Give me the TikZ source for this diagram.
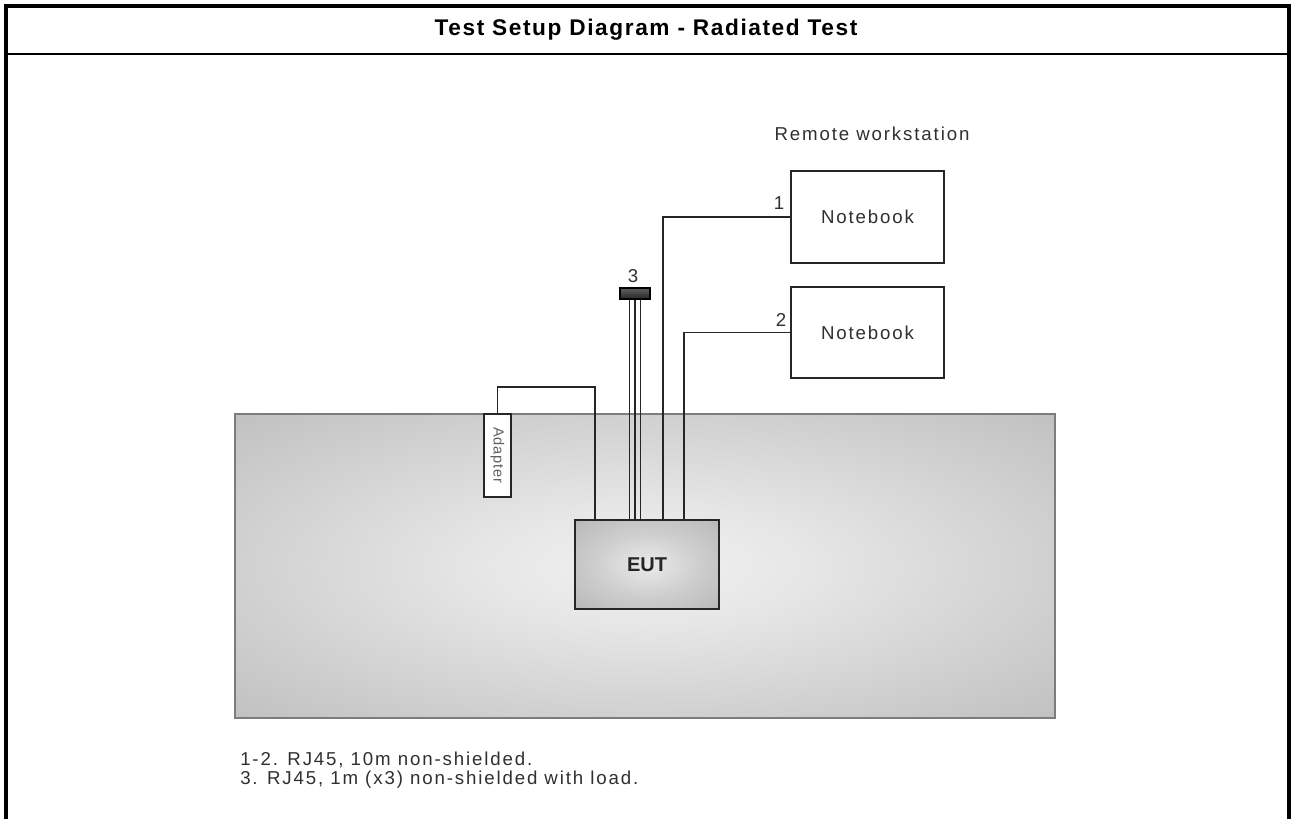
\documentclass[tikz,border=0pt]{standalone}
\usepackage{fontspec}
\setmainfont{Liberation Sans}
\newfontfamily\lblfont[LetterSpace=10]{Liberation Sans}
\newfontfamily\titlefont[LetterSpace=7]{Liberation Sans}
\newfontfamily\smallfont[LetterSpace=6]{Liberation Sans}
\usetikzlibrary{calc}

% colours of the bench top and the EUT enclosure
\definecolor{tbA}{HTML}{F1F1F1}
\definecolor{tbB}{HTML}{E6E6E6}
\definecolor{tbC}{HTML}{ABABAB}
\definecolor{tbD}{HTML}{939393}
\definecolor{euA}{HTML}{EAEAEA}
\definecolor{euB}{HTML}{CECECE}
\definecolor{euC}{HTML}{A6A6A6}
\definecolor{ink}{HTML}{262626}
\definecolor{txt}{HTML}{303030}
\definecolor{benchedge}{HTML}{7C7C7C}

\pgfdeclareradialshading{benchsh}{\pgfpoint{0bp}{0bp}}{%
  color(0bp)=(tbA); color(10bp)=(tbB); color(50bp)=(tbC); color(71bp)=(tbD)}
\pgfdeclareradialshading{eutsh}{\pgfpoint{0bp}{0bp}}{%
  color(0bp)=(euA); color(18bp)=(euB); color(50bp)=(euC); color(71bp)=(euC)}

\tikzset{
  cable/.style={draw=ink, line width=1.4pt},
  pcbox/.style={draw=ink, line width=1.3pt, fill=white, inner sep=0pt,
    minimum width=114.75pt, minimum height=68.5pt,
    font=\lblfont\fontsize{14}{16}\selectfont, text=txt},
  lbl/.style={inner sep=0pt, font=\lblfont\fontsize{14}{16}\selectfont, text=txt},
}

\begin{document}
\begin{tikzpicture}[x=0.75pt, y=-0.75pt]
\useasboundingbox (0,0) rectangle (1292,819);
\fill[white] (0,0) rectangle (1292,819);

% outer frame and title bar
\draw[black, line width=3pt] (6,819) -- (6,5.5) -- (1289,5.5) -- (1289,819);
\draw[black, line width=2.2pt] (6,54) -- (1289,54);
\node[inner sep=0pt, font=\titlefont\bfseries\fontsize{17}{20}\selectfont] (title) at (646,30)
  {Test Setup Diagram - Radiated Test};

% bench top
\node[draw=benchedge, line width=1pt, shade, shading=benchsh, inner sep=0pt,
  minimum width=615pt, minimum height=228pt] (bench) at (645,566) {};

% equipment
\node[draw=ink, line width=1.8pt, shade, shading=eutsh, inner sep=0pt,
  minimum width=108pt, minimum height=66.75pt,
  font=\bfseries\fontsize{15}{17}\selectfont, text=ink] (eut) at (647,564.5) {EUT};

\node[draw=ink, line width=1.2pt, fill=white, inner sep=0pt,
  minimum width=20.5pt, minimum height=62.25pt] (adapter) at (497.5,455.5) {};
\node[rotate=-90, inner sep=0pt, text=gray!75!black,
  font=\smallfont\fontsize{11}{13}\selectfont] (adaptertxt) at (adapter.center) {Adapter};

\node[pcbox] (nb1) at (867.5,217) {Notebook};
\node[pcbox] (nb2) at (867.5,332.5) {Notebook};
\node[lbl] (remote) at (872,134) {Remote workstation};

\node[draw=black, line width=1pt, top color=gray!75!black, bottom color=black!85,
  inner sep=0pt, minimum width=22.5pt, minimum height=8.25pt] (conn) at (635,293.5) {};

% adapter cable
\coordinate (abend) at (595,387);
\draw[cable] (adapter.north) |- (abend) -- (abend |- eut.north);

% load cables (3)
\foreach \dx in {-5.5,0,5.5} {
  \draw[cable, line width=1.3pt] ($(conn.south)+(\dx,0)$) -- ($(conn.south |- eut.north)+(\dx,0)$);
}
\node[lbl] (l3) at (633,276) {3};

% LAN cables (1, 2)
\draw[cable] (663,0 |- eut.north) |- (nb1.west);
\draw[cable] (684,0 |- eut.north) |- (nb2.west);
\node[lbl] (l1) at (779,203) {1};
\node[lbl] (l2) at (781,320) {2};

% notes
\node[lbl, anchor=base west] (n1) at (240,765) {1-2. RJ45, 10m non-shielded.};
\node[lbl, anchor=base west] (n2) at (240,784) {3. RJ45, 1m (x3) non-shielded with load.};
\end{tikzpicture}
\end{document}
